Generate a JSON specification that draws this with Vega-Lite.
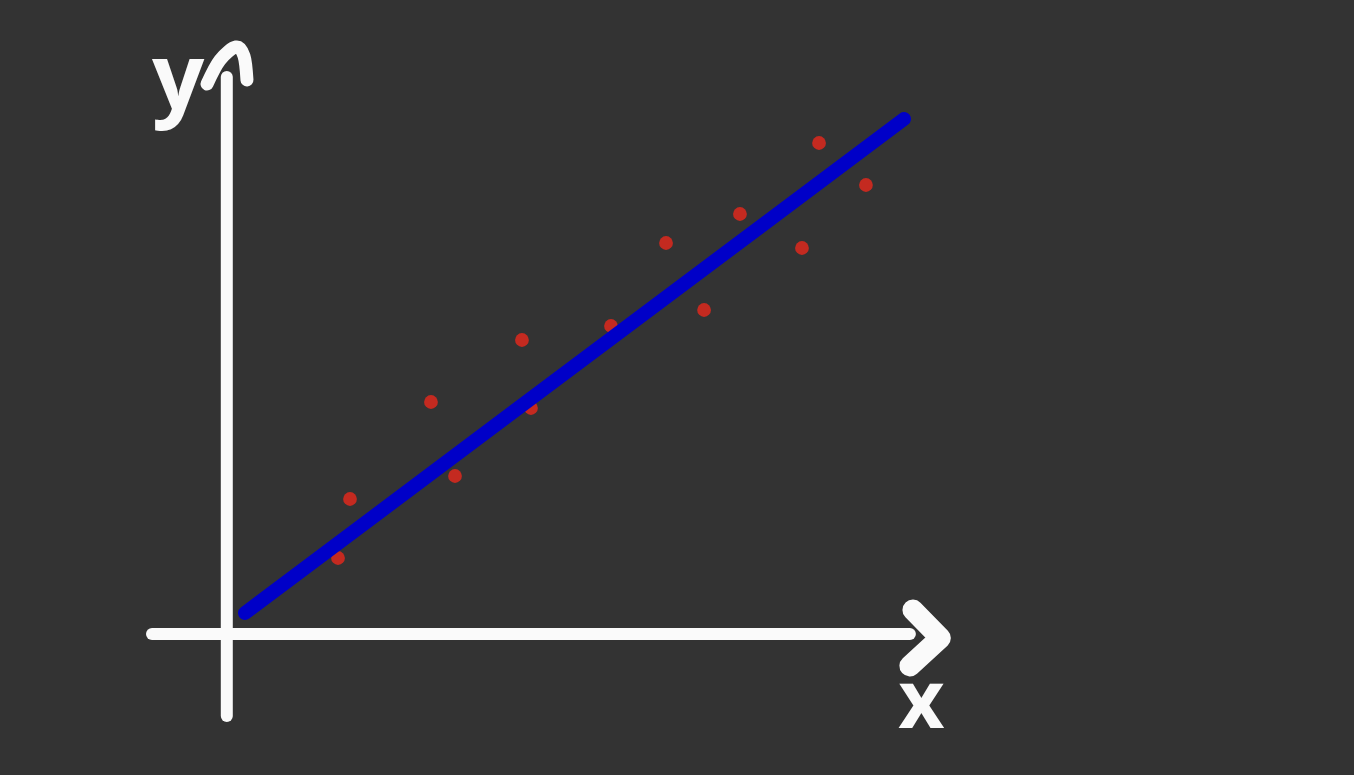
{
  "$schema": "https://vega.github.io/schema/vega-lite/v6.json",
  "width": 1354,
  "height": 775,
  "autosize": {"type": "fit", "contains": "padding"},
  "padding": 0,
  "background": "#333333",
  "config": {"view": {"stroke": null}},
  "encoding": {
    "x": {"field": "x", "type": "quantitative", "scale": {"domain": [-3.35, 16.65], "nice": false, "zero": false}, "axis": null},
    "y": {"field": "y", "type": "quantitative", "scale": {"domain": [-2.82, 12.68], "nice": false, "zero": false}, "axis": null}
  },
  "layer": [
    {
      "data": {"values": [
        {"part": "yaxis", "i": 0, "x": 0, "y": -1.64},
        {"part": "yaxis", "i": 1, "x": 0, "y": 11.14},
        {"part": "xaxis", "i": 0, "x": -1.105, "y": 0},
        {"part": "xaxis", "i": 1, "x": 10.09, "y": 0}
      ]},
      "mark": {"type": "line", "color": "#fafafa", "strokeWidth": 12, "strokeCap": "round"},
      "encoding": {"detail": {"field": "part"}, "order": {"field": "i"}}
    },
    {
      "data": {"values": [
        {"i": 0, "x": -0.292, "y": 11.0},
        {"i": 1, "x": -0.1, "y": 11.48},
        {"i": 2, "x": 0.136, "y": 11.74},
        {"i": 3, "x": 0.254, "y": 11.56},
        {"i": 4, "x": 0.298, "y": 11.08}
      ]},
      "mark": {"type": "line", "color": "#fafafa", "strokeWidth": 13, "strokeCap": "round", "strokeJoin": "round", "interpolate": "cardinal"},
      "encoding": {"order": {"field": "i"}}
    },
    {
      "data": {"values": [
        {"i": 0, "x": 10.135, "y": 0.48},
        {"i": 1, "x": 10.54, "y": -0.08},
        {"i": 2, "x": 10.09, "y": -0.64}
      ]},
      "mark": {"type": "line", "color": "#fafafa", "strokeWidth": 21, "strokeCap": "round", "strokeJoin": "round"},
      "encoding": {"order": {"field": "i"}}
    },
    {
      "data": {"values": [
        {"x": 1.643, "y": 1.52},
        {"x": 1.82, "y": 2.7},
        {"x": 3.016, "y": 4.64},
        {"x": 3.371, "y": 3.16},
        {"x": 4.493, "y": 4.52},
        {"x": 4.36, "y": 5.88},
        {"x": 5.675, "y": 6.16},
        {"x": 6.488, "y": 7.82},
        {"x": 7.05, "y": 6.48},
        {"x": 7.58, "y": 8.4},
        {"x": 8.496, "y": 7.72},
        {"x": 8.748, "y": 9.82},
        {"x": 9.441, "y": 8.98}
      ]},
      "mark": {"type": "circle", "color": "#c42a20", "opacity": 1, "size": 190}
    },
    {
      "data": {"values": [
        {"x": 0.269, "y": 0.42},
        {"x": 10.003, "y": 10.3}
      ]},
      "mark": {"type": "line", "color": "#0000c8", "strokeWidth": 14, "strokeCap": "round"}
    },
    {
      "data": {"values": [
        {"label": "y", "x": -0.72, "y": 10.5}
      ]},
      "mark": {"type": "text", "color": "#fafafa", "font": "Open Sans", "fontWeight": "bold", "fontSize": 92, "align": "center", "baseline": "alphabetic"},
      "encoding": {"text": {"field": "label"}}
    },
    {
      "data": {"values": [
        {"label": "x", "x": 10.26, "y": -1.88}
      ]},
      "mark": {"type": "text", "color": "#fafafa", "font": "Open Sans", "fontWeight": "bold", "fontSize": 80, "align": "center", "baseline": "alphabetic"},
      "encoding": {"text": {"field": "label"}}
    }
  ]
}
